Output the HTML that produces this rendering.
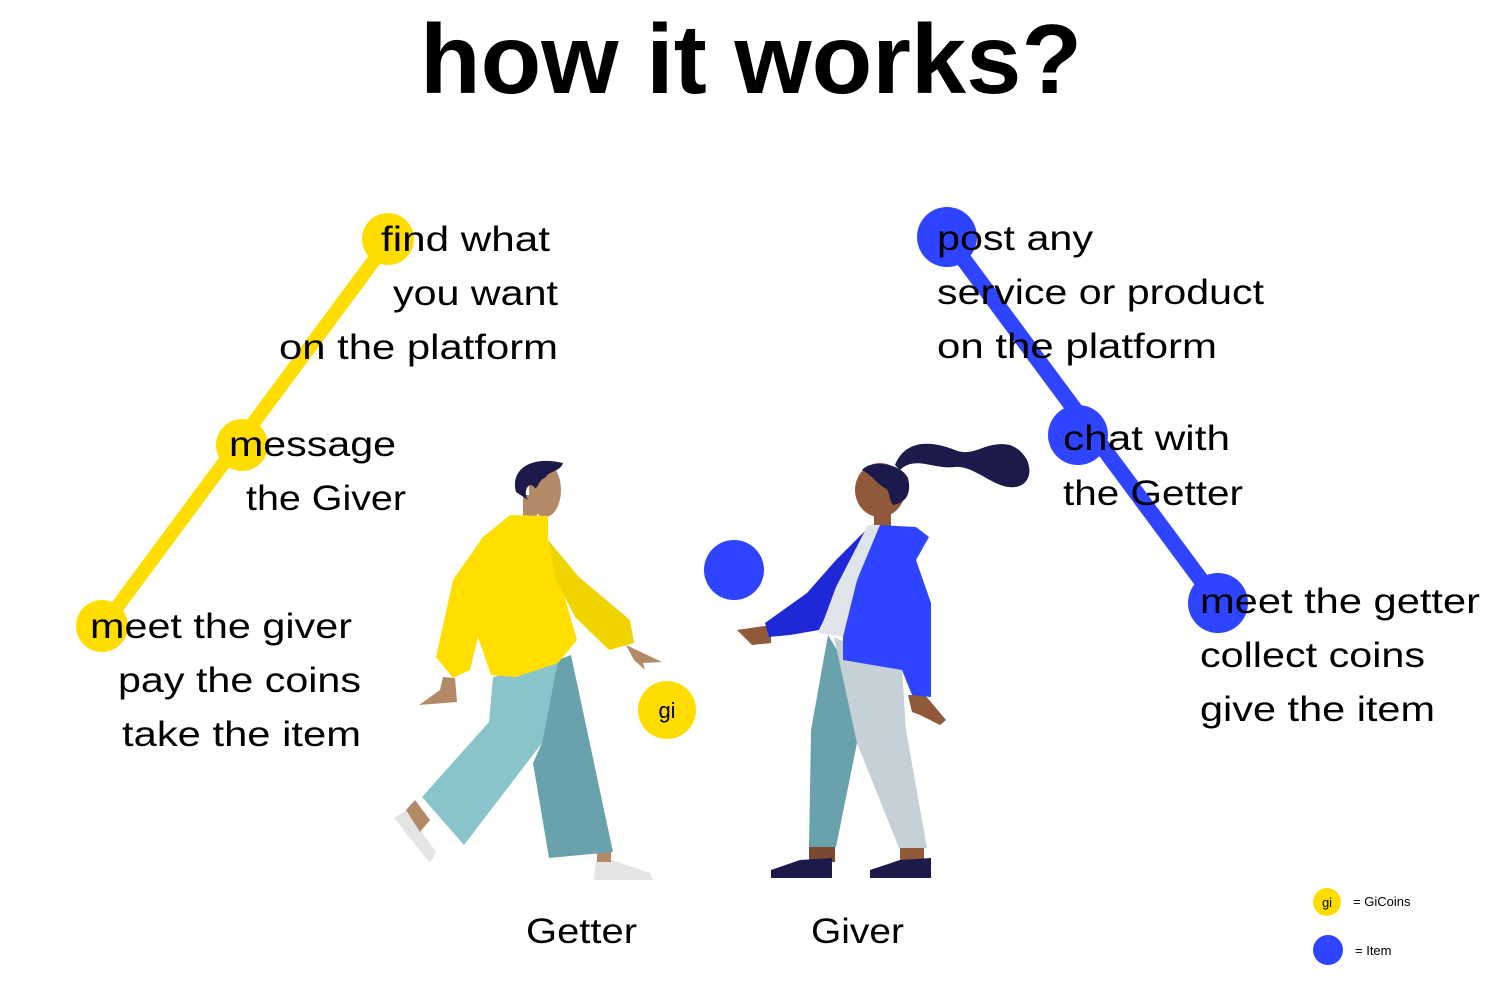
<!DOCTYPE html>
<html><head><style>html,body{margin:0;padding:0;background:#fff}svg{display:block}</style></head>
<body>
<svg width="1500" height="1000" viewBox="0 0 1500 1000" xmlns="http://www.w3.org/2000/svg" font-family="Liberation Sans, sans-serif">
<text x="420" y="93" font-size="98" font-weight="bold" textLength="662" lengthAdjust="spacingAndGlyphs">how it works?</text>
<!-- yellow path -->
<line x1="389" y1="240" x2="103" y2="626" stroke="#FFDD00" stroke-width="14"/>
<circle cx="388" cy="239" r="26" fill="#FFDD00"/>
<circle cx="242" cy="445" r="26" fill="#FFDD00"/>
<circle cx="102" cy="626" r="26" fill="#FFDD00"/>
<!-- blue path -->
<line x1="947" y1="237" x2="1218" y2="603" stroke="#2E44FF" stroke-width="16"/>
<circle cx="947" cy="237" r="30" fill="#2E44FF"/>
<circle cx="1078" cy="435" r="30" fill="#2E44FF"/>
<circle cx="1218" cy="603" r="30" fill="#2E44FF"/>
<g font-size="35" fill="#000" lengthAdjust="spacingAndGlyphs">
<text x="381" y="251" textLength="169" lengthAdjust="spacingAndGlyphs">find what</text>
<text x="393" y="305" textLength="165" lengthAdjust="spacingAndGlyphs">you want</text>
<text x="279" y="359" textLength="279" lengthAdjust="spacingAndGlyphs">on the platform</text>
<text x="229" y="456" textLength="167" lengthAdjust="spacingAndGlyphs">message</text>
<text x="246" y="510" textLength="160" lengthAdjust="spacingAndGlyphs">the Giver</text>
<text x="90" y="638" textLength="262" lengthAdjust="spacingAndGlyphs">meet the giver</text>
<text x="118" y="692" textLength="243" lengthAdjust="spacingAndGlyphs">pay the coins</text>
<text x="122" y="746" textLength="239" lengthAdjust="spacingAndGlyphs">take the item</text>
<text x="937" y="250" textLength="156" lengthAdjust="spacingAndGlyphs">post any</text>
<text x="937" y="304" textLength="327" lengthAdjust="spacingAndGlyphs">service or product</text>
<text x="937" y="358" textLength="280" lengthAdjust="spacingAndGlyphs">on the platform</text>
<text x="1063" y="450" textLength="167" lengthAdjust="spacingAndGlyphs">chat with</text>
<text x="1063" y="505" textLength="180" lengthAdjust="spacingAndGlyphs">the Getter</text>
<text x="1200" y="613" textLength="280" lengthAdjust="spacingAndGlyphs">meet the getter</text>
<text x="1200" y="667" textLength="225" lengthAdjust="spacingAndGlyphs">collect coins</text>
<text x="1200" y="721" textLength="235" lengthAdjust="spacingAndGlyphs">give the item</text>
<text x="526" y="943" textLength="111" lengthAdjust="spacingAndGlyphs">Getter</text>
<text x="811" y="943" textLength="93" lengthAdjust="spacingAndGlyphs">Giver</text>
</g>
<!-- man -->
<polygon points="394,818 406,810 436,852 430,863" fill="#E4E4E4"/>
<polygon points="406,810 415,800 430,820 420,832" fill="#B28A67"/>
<polygon points="596,860 612,860 650,873 653,880 594,880" fill="#E4E4E4"/>
<rect x="597" y="848" width="14" height="14" fill="#B28A67"/>
<polygon points="493,677 558,660 542,743 464,845 422,797 489,722" fill="#8AC4CB"/>
<polygon points="558,660 571,655 613,852 549,858 533,763 542,743" fill="#69A2AD"/>
<rect x="523" y="495" width="14" height="22" fill="#B28A67"/>
<ellipse cx="545" cy="490" rx="16" ry="27" fill="#B28A67"/>
<path d="M516,492 C510,470 530,455 563,463 C560,472 550,470 545,478 C540,478 537,490 535,488 C530,480 522,490 528,500 Z" fill="#1B1A4A"/>
<polygon points="626,645 662,662 643,663 645,670 634,660" fill="#B28A67"/>
<polygon points="443,677 455,678 457,702 419,705 440,690" fill="#B28A67"/>
<polygon points="510,515 548,516 548,540 577,640 558,663 516,677 491,675 478,637 470,670 453,678 436,657 453,580 483,537" fill="#FFDE00"/>
<polygon points="548,540 579,577 630,620 634,643 609,650 575,617 556,580" fill="#F0D400"/>
<!-- coin -->
<circle cx="667" cy="710" r="29" fill="#FFDD00"/>
<text x="667" y="718" font-size="22" text-anchor="middle">gi</text>
<!-- ball -->
<ellipse cx="734" cy="570" rx="30" ry="30" fill="#2E44FF"/>
<!-- woman -->
<path d="M895,465 C905,440 930,440 955,450 C975,458 985,440 1010,445 C1035,455 1035,485 1015,487 C995,490 975,465 955,467 C935,470 915,455 900,470 Z" fill="#1B1A4A"/>
<rect x="874" y="500" width="17" height="28" fill="#8F593A"/>
<ellipse cx="880" cy="490" rx="25" ry="27" fill="#8F593A"/>
<path d="M862,470 C870,460 900,462 908,478 C912,495 905,503 893,505 C888,498 890,490 885,488 C878,485 872,475 862,470 Z" fill="#1B1A4A"/>
<rect x="809" y="840" width="26" height="22" fill="#7A4A30"/>
<rect x="900" y="840" width="24" height="22" fill="#8F593A"/>
<polygon points="828,635 843,660 857,743 836,847 809,847 811,730" fill="#69A2AD"/>
<polygon points="834,637 902,670 906,730 927,848 899,848 857,743" fill="#C5D0D7"/>
<polygon points="771,870 800,860 832,858 832,878 771,878" fill="#1B1A4A"/>
<polygon points="870,870 900,860 931,858 931,878 870,878" fill="#1B1A4A"/>
<polygon points="737,630 771,625 771,643 752,645" fill="#8F593A"/>
<polygon points="908,695 925,695 946,720 940,725 920,715 912,712" fill="#8F593A"/>
<polygon points="878,525 916,527 929,537 916,560 931,603 931,697 912,695 902,670 843,660 843,630 857,580" fill="#2E44FF"/>
<polygon points="866,530 843,580 819,630 790,635 769,637 765,623 807,593 836,560" fill="#1F28D6"/>
<polygon points="868,525 880,525 857,580 843,637 819,633 836,587" fill="#DFE3EA"/>
<!-- legend -->
<circle cx="1327" cy="902" r="14" fill="#FFDD00"/>
<text x="1327" y="907" font-size="13" text-anchor="middle">gi</text>
<text x="1353" y="906" font-size="13">= GiCoins</text>
<circle cx="1328" cy="950" r="15" fill="#2E44FF"/>
<text x="1355" y="955" font-size="13">= Item</text>
</svg>
</body></html>
